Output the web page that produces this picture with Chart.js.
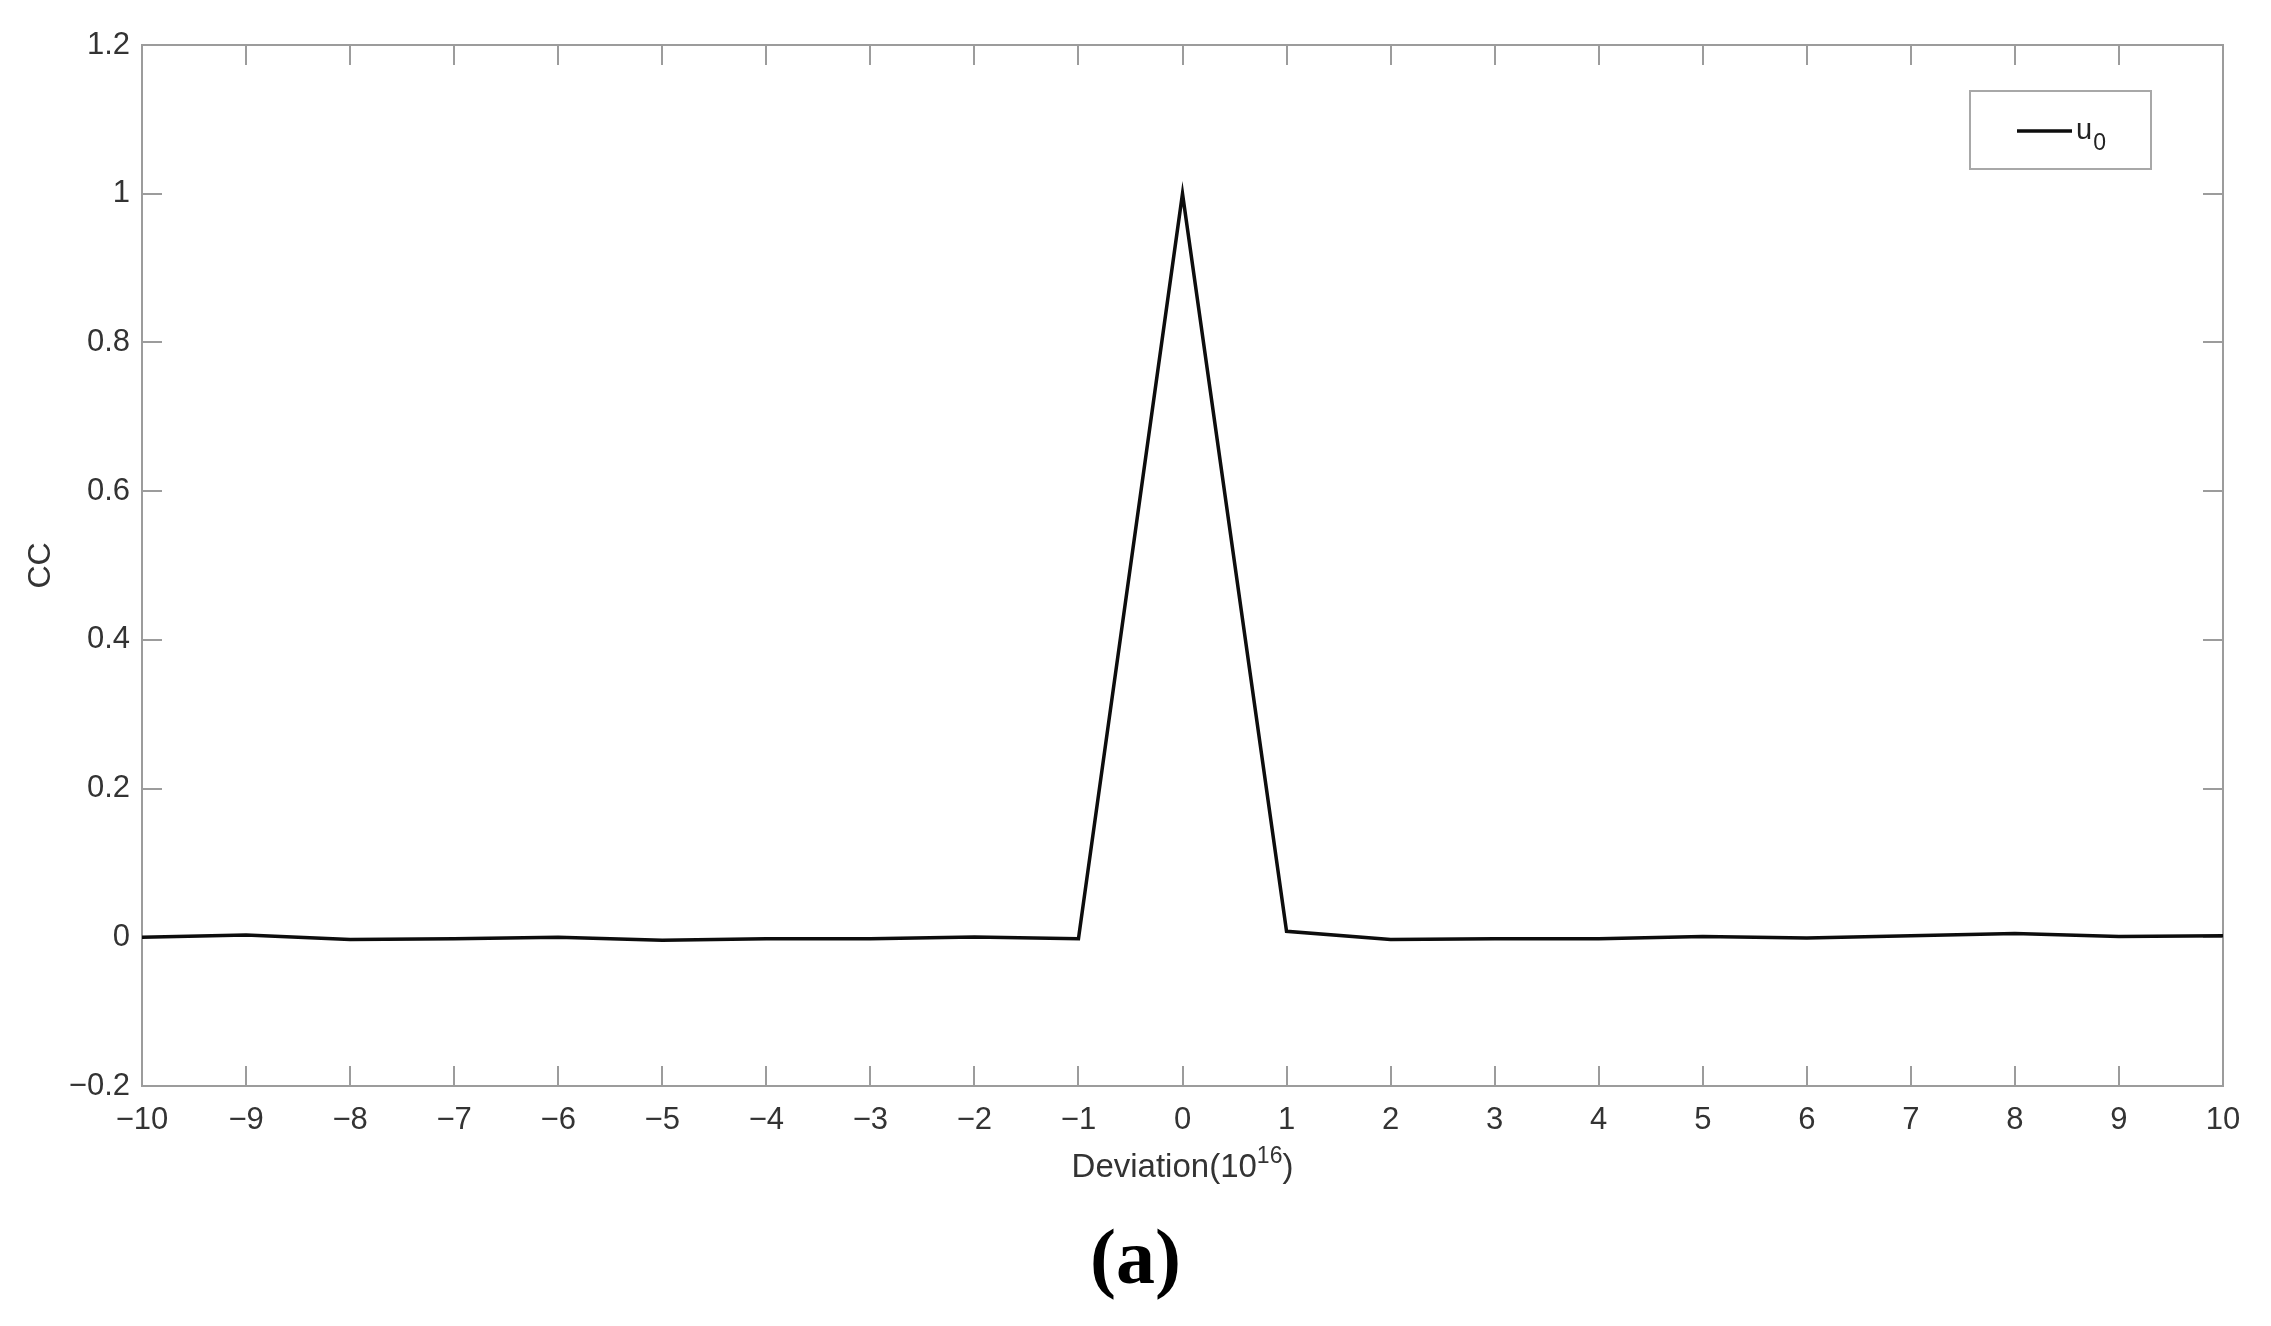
<!DOCTYPE html>
<html>
<head>
<meta charset="utf-8">
<title>CC vs Deviation</title>
<script src="https://cdn.jsdelivr.net/npm/chart.js@4.4.1/dist/chart.umd.min.js"></script>
<style>
  html, body { margin: 0; padding: 0; background: #fff; }
  canvas { display: block; }
</style>
</head>
<body>
<canvas id="ccChart" width="2271" height="1326"></canvas>
<script>
// data
var deviation = [-10, -9, -8, -7, -6, -5, -4, -3, -2, -1, 0, 1, 2, 3, 4, 5, 6, 7, 8, 9, 10];
var cc = [0, 0.003, -0.003, -0.002, 0, -0.004, -0.002, -0.002, 0.0005, -0.002, 1.0,
          0.008, -0.003, -0.002, -0.002, 0.001, -0.001, 0.002, 0.005, 0.001, 0.002];
var xTicks = { min: -10, max: 10, step: 1 };
var yTicks = { min: -0.2, max: 1.2, step: 0.2 };

var FONT = '"Liberation Sans", Arial, Helvetica, sans-serif';
var TEXT = "#333333";
var AXIS = "#9c9c9c";
var TICK_LEN = 20;

function minus(s) {
  return s.replace("-", "\u2212");
}

// top/right frame and inward ticks on all four sides
var frameTicks = {
  id: "frameTicks",
  beforeDatasetsDraw: function (chart) {
    var ctx = chart.ctx;
    var a = chart.chartArea;
    var xs = chart.scales.x;
    var ys = chart.scales.y;
    ctx.save();
    ctx.strokeStyle = AXIS;
    ctx.lineWidth = 2;
    ctx.beginPath();
    ctx.moveTo(a.left, a.top);
    ctx.lineTo(a.right, a.top);
    ctx.lineTo(a.right, a.bottom);
    xs.ticks.forEach(function (t) {
      var px = Math.round(xs.getPixelForValue(t.value));
      ctx.moveTo(px, a.bottom);
      ctx.lineTo(px, a.bottom - TICK_LEN);
      ctx.moveTo(px, a.top);
      ctx.lineTo(px, a.top + TICK_LEN);
    });
    ys.ticks.forEach(function (t) {
      var py = Math.round(ys.getPixelForValue(t.value));
      ctx.moveTo(a.left, py);
      ctx.lineTo(a.left + TICK_LEN, py);
      ctx.moveTo(a.right, py);
      ctx.lineTo(a.right - TICK_LEN, py);
    });
    ctx.stroke();
    ctx.restore();
  },
  afterDraw: function (chart) {
    var ctx = chart.ctx;
    var a = chart.chartArea;
    ctx.save();

    // x axis title with superscript
    var main = "Deviation(10";
    var sup = "16";
    var close = ")";
    ctx.fillStyle = TEXT;
    ctx.textBaseline = "alphabetic";
    ctx.font = "33px " + FONT;
    var w1 = ctx.measureText(main).width;
    var w3 = ctx.measureText(close).width;
    ctx.font = "23px " + FONT;
    var w2 = ctx.measureText(sup).width;
    var cx = (a.left + a.right) / 2;
    var x0 = cx - (w1 + w2 + w3) / 2;
    var base = 1177;
    ctx.font = "33px " + FONT;
    ctx.textAlign = "left";
    ctx.fillText(main, x0, base);
    ctx.font = "23px " + FONT;
    ctx.fillText(sup, x0 + w1, base - 14);
    ctx.font = "33px " + FONT;
    ctx.fillText(close, x0 + w1 + w2, base);

    // legend box
    var ds = chart.data.datasets[0];
    ctx.strokeStyle = "#a8a8a8";
    ctx.lineWidth = 2;
    ctx.strokeRect(1970, 91, 181, 78);
    ctx.strokeStyle = ds.borderColor;
    ctx.lineWidth = 3.5;
    ctx.beginPath();
    ctx.moveTo(2017, 131);
    ctx.lineTo(2072, 131);
    ctx.stroke();
    ctx.fillStyle = "#222";
    ctx.font = "29px " + FONT;
    ctx.fillText("u", 2076, 139);
    var uw = ctx.measureText("u").width;
    ctx.font = "23px " + FONT;
    ctx.fillText("0", 2076 + uw + 1, 150);

    // panel caption
    ctx.fillStyle = "#000";
    ctx.font = 'bold 78px "Liberation Serif", "Times New Roman", serif';
    ctx.textAlign = "center";
    ctx.fillText("(a)", chart.width / 2, 1283);
    ctx.restore();
  }
};

var points = deviation.map(function (d, i) {
  return { x: d, y: cc[i] };
});

var chart = new Chart(document.getElementById("ccChart"), {
  type: "line",
  data: {
    datasets: [
      {
        label: "u\u2080",
        data: points,
        borderColor: "#0d0d0d",
        borderWidth: 3.5,
        pointRadius: 0,
        tension: 0,
        fill: false,
      },
    ],
  },
  options: {
    responsive: false,
    animation: false,
    devicePixelRatio: 1,
    layout: { padding: { top: 45, right: 48, left: 0, bottom: 0 } },
    plugins: {
      legend: { display: false },
      tooltip: { enabled: false },
    },
    scales: {
      x: {
        type: "linear",
        min: xTicks.min,
        max: xTicks.max,
        afterFit: function (scale) {
          scale.height = 240;
        },
        grid: { display: false, drawTicks: false },
        border: { display: true, color: AXIS, width: 2 },
        ticks: {
          stepSize: xTicks.step,
          padding: 16,
          color: TEXT,
          font: { family: FONT, size: 31 },
          maxRotation: 0,
          autoSkip: false,
          callback: function (v) {
            return minus(String(Math.round(v)));
          },
        },
      },
      y: {
        type: "linear",
        min: yTicks.min,
        max: yTicks.max,
        afterFit: function (scale) {
          scale.width = 142;
        },
        grid: { display: false, drawTicks: false },
        border: { display: true, color: AXIS, width: 2 },
        title: {
          display: true,
          text: "CC",
          color: TEXT,
          font: { family: FONT, size: 32 },
          padding: { top: 22, bottom: 0 },
        },
        ticks: {
          stepSize: yTicks.step,
          padding: 12,
          color: TEXT,
          font: { family: FONT, size: 31 },
          callback: function (v) {
            return minus(String(Math.round(v * 10) / 10));
          },
        },
      },
    },
  },
  plugins: [frameTicks],
});
</script>
</body>
</html>
